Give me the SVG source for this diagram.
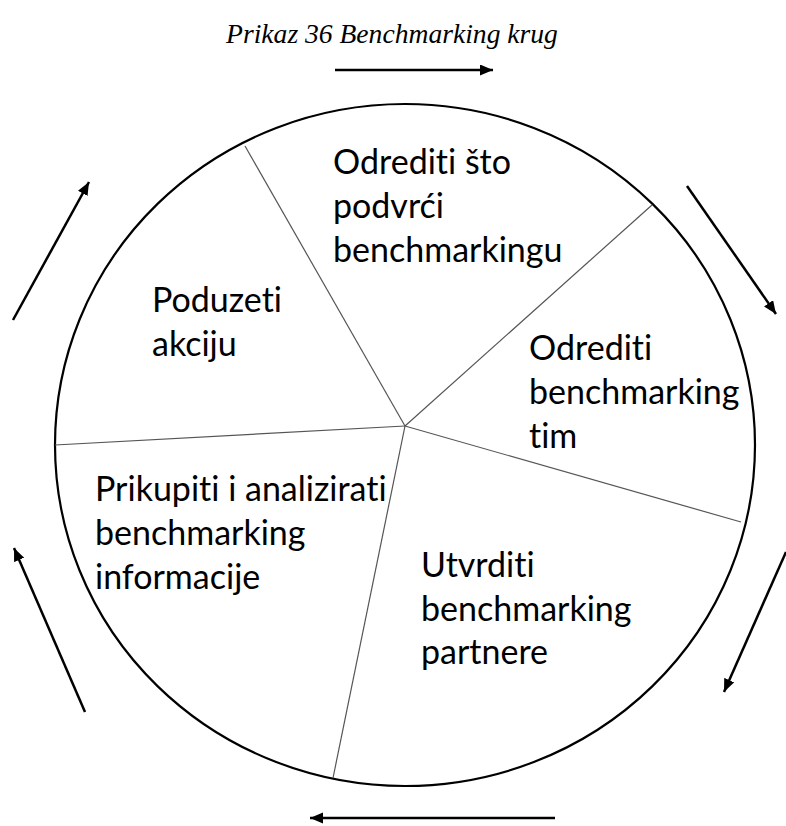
<svg xmlns="http://www.w3.org/2000/svg" width="786" height="826" viewBox="0 0 786 826">
<style>
.title{font-family:"Liberation Serif","Times New Roman",serif;font-style:italic;font-size:27.6px;fill:#000}
.lbl{font-family:Lato,"Liberation Sans",sans-serif;font-size:34px;fill:#000;font-variant-ligatures:none;font-feature-settings:"liga" 0,"clig" 0,"dlig" 0}
.spoke{stroke:#555;stroke-width:1.2;fill:none}
.arr{stroke:#000;stroke-width:2.5;fill:none;marker-end:url(#ah)}
</style>
<defs>
<marker id="ah" markerUnits="userSpaceOnUse" markerWidth="14" markerHeight="12" refX="13" refY="5.5" orient="auto">
<path d="M0,0 L13,5.5 L0,11 z" fill="#000"/>
</marker>
</defs>
<rect width="786" height="826" fill="#fff"/>
<text class="title" x="392" y="43" text-anchor="middle">Prikaz 36 Benchmarking krug</text>
<g id="circle">
<ellipse cx="405" cy="445" rx="350" ry="341" fill="#fff" stroke="#000" stroke-width="2.2"/>
</g>
<g id="spokes">
<line class="spoke" x1="405" y1="426" x2="245" y2="146"/>
<line class="spoke" x1="405" y1="426" x2="652" y2="205"/>
<line class="spoke" x1="405" y1="426" x2="741" y2="522"/>
<line class="spoke" x1="405" y1="426" x2="333" y2="778"/>
<line class="spoke" x1="405" y1="426" x2="55" y2="445"/>
</g>
<g id="node-odrediti-sto">
<text class="lbl" x="333" y="174">Odrediti što</text>
<text class="lbl" x="333" y="218">podvrći</text>
<text class="lbl" x="333" y="262">benchmarkingu</text>
</g>
<g id="node-tim">
<text class="lbl" x="529" y="360">Odrediti</text>
<text class="lbl" x="529" y="404">benchmarking</text>
<text class="lbl" x="529" y="448">tim</text>
</g>
<g id="node-partnere">
<text class="lbl" x="421" y="577">Utvrditi</text>
<text class="lbl" x="421" y="621">benchmarking</text>
<text class="lbl" x="421" y="664">partnere</text>
</g>
<g id="node-informacije">
<text class="lbl" x="95" y="501">Prikupiti i analizirati</text>
<text class="lbl" x="95" y="545">benchmarking</text>
<text class="lbl" x="95" y="589">informacije</text>
</g>
<g id="node-akciju">
<text class="lbl" x="152" y="312">Poduzeti</text>
<text class="lbl" x="152" y="356">akciju</text>
</g>
<g id="connectors">
<line class="arr" x1="335" y1="70" x2="493" y2="70"/>
<line class="arr" x1="687" y1="186" x2="776" y2="314"/>
<line class="arr" x1="786" y1="552" x2="724" y2="692"/>
<line class="arr" x1="555" y1="818" x2="310" y2="818"/>
<line class="arr" x1="85" y1="712" x2="14" y2="548"/>
<line class="arr" x1="13" y1="320" x2="89" y2="182"/>
</g>
</svg>
